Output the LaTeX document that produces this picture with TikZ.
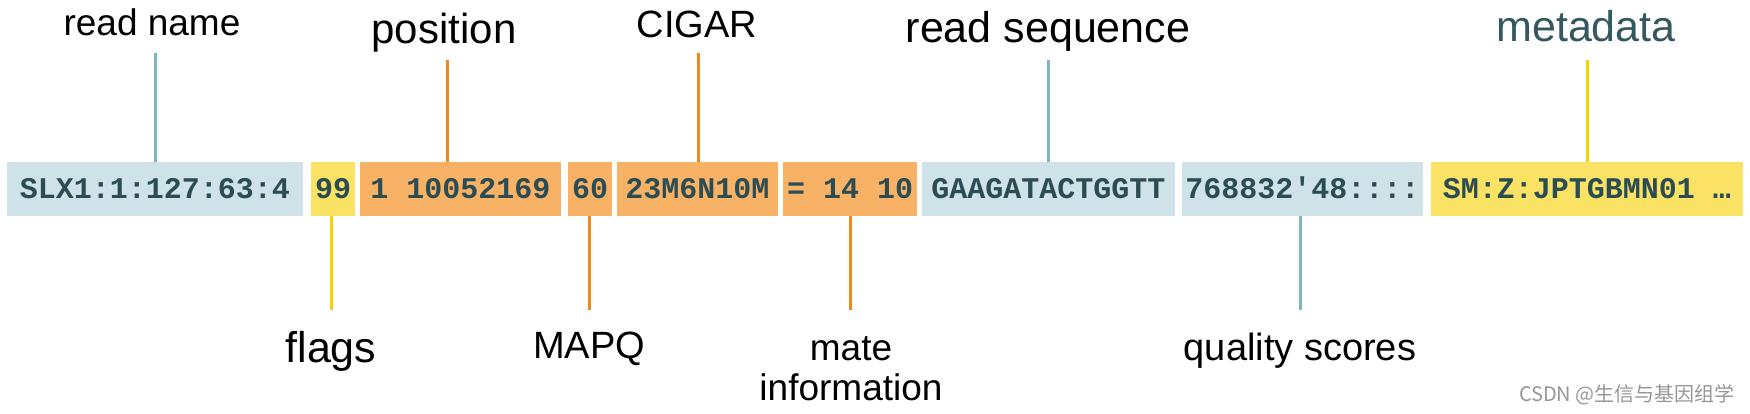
\documentclass[tikz,border=0pt]{standalone}
\usepackage{fontspec}
\setmainfont{Liberation Sans}
\setmonofont{Liberation Mono}
\newfontfamily\cjkfont{Noto Sans CJK SC}
\definecolor{boxblue}{RGB}{207,226,231}
\definecolor{boxyellow}{RGB}{249,226,100}
\definecolor{boxorange}{RGB}{247,178,102}
\definecolor{codetext}{RGB}{44,76,84}
\definecolor{lineblue}{RGB}{127,181,194}
\definecolor{lineorange}{RGB}{242,135,30}
\definecolor{lineyellow}{RGB}{250,210,0}
\definecolor{metacol}{RGB}{52,88,96}
\definecolor{wmgray}{RGB}{150,150,150}
\tikzset{
  codebox/.style={rectangle, inner sep=0pt, minimum height=54pt, text=codetext,
    font=\ttfamily\bfseries\fontsize{30pt}{32pt}\selectfont, text height=18pt, text depth=0pt},
  lbl/.style={anchor=base, inner sep=0pt, text=black},
  conn/.style={line width=3pt},
}
\begin{document}
\begin{tikzpicture}[x=1pt,y=-1pt]
\useasboundingbox (0,0) rectangle (1750,413);
% boxes
\node[codebox, fill=boxblue,   minimum width=296pt] (b1) at (155,189)   {SLX1:1:127:63:4};
\node[codebox, fill=boxyellow, minimum width=44pt]  (b2) at (333,189)   {99};
\node[codebox, fill=boxorange, minimum width=201pt] (b3) at (460.5,189) {1 10052169};
\node[codebox, fill=boxorange, minimum width=44pt]  (b4) at (590,189)   {60};
\node[codebox, fill=boxorange, minimum width=161pt] (b5) at (697.5,189) {23M6N10M};
\node[codebox, fill=boxorange, minimum width=134pt] (b6) at (850,189)   {= 14 10};
\node[codebox, fill=boxblue,   minimum width=253pt] (b7) at (1048.5,189){GAAGATACTGGTT};
\node[codebox, fill=boxblue,   minimum width=241pt] (b8) at (1302.5,189){768832'48::::};
\node[codebox, fill=boxyellow, minimum width=312pt] (b9) at (1587,189)  {SM:Z:JPTGBMN01 …};
% top labels
\node[lbl, font=\fontsize{37pt}{40pt}\selectfont] (lrn)  at (152,35)  {read name};
\node[lbl, font=\fontsize{42pt}{45pt}\selectfont] (lpos) at (444,43)  {position};
\node[lbl, font=\fontsize{38pt}{41pt}\selectfont] (lcig) at (697,37)  {CIGAR};
\node[lbl, font=\fontsize{43pt}{46pt}\selectfont] (lseq) at (1048,42) {read sequence};
\node[lbl, font=\fontsize{43pt}{46pt}\selectfont, text=metacol] (lmeta) at (1586,41) {metadata};
% bottom labels
\node[lbl, font=\fontsize{43pt}{46pt}\selectfont] (lflags) at (331,362)  {flags};
\node[lbl, font=\fontsize{38pt}{41pt}\selectfont] (lmapq)  at (589,358)  {MAPQ};
\node[lbl, font=\fontsize{37pt}{40pt}\selectfont, align=center] (lmate) at (851,400) {mate\\information};
\node[lbl, font=\fontsize{38pt}{41pt}\selectfont] (lqual)  at (1300,360) {quality scores};
% connector ends
\coordinate (crn)   at (155,53);
\coordinate (cpos)  at (447,60);
\coordinate (ccig)  at (698,53);
\coordinate (cseq)  at (1048,60);
\coordinate (cmeta) at (1587,60);
\coordinate (cflags) at (331,310);
\coordinate (cmapq)  at (589,310);
\coordinate (cmate)  at (850,310);
\coordinate (cqual)  at (1300,310);
\draw[conn, lineblue]   (crn)   -- (crn |- b1.north);
\draw[conn, lineorange] (cpos)  -- (cpos |- b3.north);
\draw[conn, lineorange] (ccig)  -- (ccig |- b5.north);
\draw[conn, lineblue]   (cseq)  -- (cseq |- b7.north);
\draw[conn, lineyellow] (cmeta) -- (cmeta |- b9.north);
\draw[conn, lineyellow] (cflags |- b2.south) -- (cflags);
\draw[conn, lineorange] (cmapq |- b4.south) -- (cmapq);
\draw[conn, lineorange] (cmate |- b6.south) -- (cmate);
\draw[conn, lineblue]   (cqual |- b8.south) -- (cqual);
% watermark
\node[anchor=base east, inner sep=0pt, text=wmgray, font=\cjkfont\fontsize{20pt}{22pt}\selectfont] (wm) at (1735,401) {CSDN @生信与基因组学};
\end{tikzpicture}
\end{document}
